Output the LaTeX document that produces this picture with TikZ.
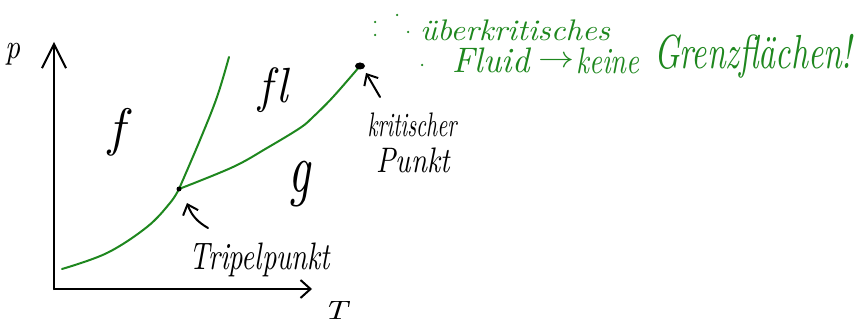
\documentclass[tikz,border=0pt]{standalone}
\usetikzlibrary{arrows.meta}
\definecolor{pen}{RGB}{30,135,30}
\newcommand{\fitbox}[3]{\resizebox*{#1}{#2}{#3}}
\begin{document}
\begin{tikzpicture}[x=1pt,y=-1pt,
  axis/.style={line width=2pt,black,line cap=round},
  curve/.style={line width=2pt,pen,line cap=round,line join=round},
  hand/.style={inner sep=0pt,font=\itshape},
  greenhand/.style={inner sep=0pt,font=\itshape,text=pen},
  pointer/.style={line width=2pt,black,line cap=round,-{Straight Barb[length=9pt,width=16pt,line width=2pt]}},
  gdot/.style={circle,fill=pen,inner sep=0pt,minimum size=2.5pt}]
\useasboundingbox (0,0) rectangle (856,323);
% axes
\coordinate (o) at (54,289);
\coordinate (ytop) at (54,42);
\coordinate (xend) at (312,289);
\draw[axis,-{Straight Barb[length=24pt,width=24pt,line width=2pt]}] (o) -- (ytop);
\draw[axis,-{Straight Barb[length=10pt,width=18pt,line width=2pt]}] (o) -- (xend);
\node[hand] (plabel) at (13,54) {\fitbox{15pt}{22pt}{p}};
\node[hand] (tlabel) at (335,310) {\fitbox{24pt}{18pt}{T}};
% special points
\coordinate (tp) at (179,189);
\coordinate (cp) at (360,66);
% phase boundaries
\draw[curve] plot[smooth,tension=0.6] coordinates {(62,269) (107,253) (147,227) (170,203) (tp)};
\draw[curve] plot[smooth,tension=0.6] coordinates {(tp) (200,140) (217,97) (229,57)};
\draw[curve] plot[smooth,tension=0.6] coordinates {(tp) (233,167) (267,148) (300,128) (313,117) (333,97) (cp)};
\fill[black] (tp) circle (2.5pt);
\fill[black] (cp) ellipse (5pt and 3.5pt);
% region labels
\node[hand] (fest) at (117,132) {\fitbox{16pt}{48pt}{f}};
\node[hand] (fl) at (273,90) {\fitbox{30pt}{45pt}{\mbox{f}\kern1pt\mbox{l}}};
\node[hand] (g) at (299,184) {\fitbox{22pt}{46pt}{g}};
% triple point
\node[hand] (tripel) at (260,260) {\fitbox{140pt}{34pt}{Tripelpunkt}};
\coordinate (tpa) at (208,228);
\coordinate (tph) at (187,203);
\draw[pointer] (tpa) to[bend left=20] (tph);
% critical point
\node[hand] (krit1) at (412,125) {\fitbox{89pt}{24pt}{kritischer}};
\node[hand] (krit2) at (413,160) {\fitbox{73pt}{25pt}{Punkt}};
\coordinate (cpa) at (380,97);
\coordinate (cph) at (366,73);
\draw[pointer] (cpa) -- (cph);
% green note
\node[gdot] (d1) at (375,22) {};
\node[gdot] (d2) at (375,35) {};
\node[gdot] (d3) at (397,15) {};
\node[gdot] (d4) at (408,32) {};
\node[gdot] (d5) at (422,65) {};
\node[greenhand] (ueber) at (515,30) {\fitbox{190pt}{21pt}{überkritisches}};
\node[greenhand] (fluid) at (491,60) {\fitbox{77pt}{25pt}{Fluid}};
\node[greenhand] (arr) at (556,62) {\fitbox{36pt}{11pt}{$\rightarrow$}};
\node[greenhand] (keine) at (608,61) {\fitbox{63pt}{26pt}{keine}};
\node[greenhand] (grenz) at (753,56) {\fitbox{198pt}{44pt}{Grenzflächen!}};
\end{tikzpicture}
\end{document}
